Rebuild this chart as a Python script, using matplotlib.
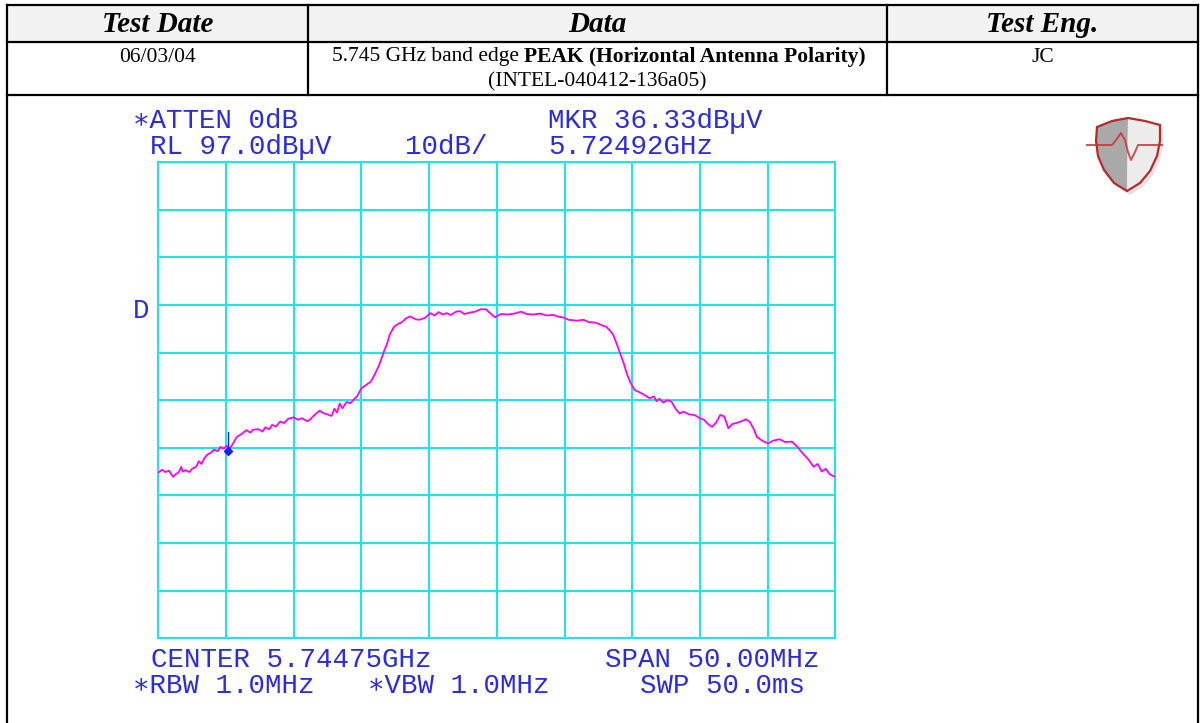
import matplotlib.pyplot as plt
from matplotlib.patches import Polygon, Rectangle

W, H = 1201, 723

# table contents
hdr_labels = ['Test Date', 'Data', 'Test Eng.']
row_date = '06/03/04'
row_data_plain = '5.745 GHz band edge'
row_data_bold = 'PEAK (Horizontal Antenna Polarity)'
row_data_line2 = '(INTEL-040412-136a05)'
row_eng = 'JC'

# analyzer settings
center_ghz = 5.74475
span_mhz = 50.0
ref_level = 97.0
db_per_div = 10
mkr_ghz = 5.72492
mkr_level = 36.33

# trace: MHz from start frequency, level in dBuV
trace_mhz = [0.0, 0.3, 0.5, 0.8, 1.0, 1.1, 1.3, 1.5, 1.7, 1.8, 2.0, 2.3, 2.5, 2.8,
             3.0, 3.2, 3.4, 3.6, 3.9, 4.1, 4.4, 4.6, 4.8, 5.05, 5.3, 5.5, 5.8, 6.1,
             6.5, 6.8, 7.0, 7.4, 7.7, 7.9, 8.2, 8.4, 8.7, 9.0, 9.3, 9.6, 10.0, 10.3,
             10.6, 11.0, 11.2, 11.5, 11.9, 12.2, 12.5, 12.8, 13.0, 13.2, 13.4, 13.6,
             13.9, 14.2, 14.4, 14.7, 15.0, 15.4, 15.7, 16.0, 16.3, 16.7, 16.9, 17.1,
             17.4, 17.7, 18.0, 18.3, 18.6, 19.0, 19.3, 19.7, 20.1, 20.4, 20.7, 21.0,
             21.3, 21.6, 22.0, 22.3, 22.6, 23.0, 23.4, 23.8, 24.2, 24.5, 24.87, 25.1,
             25.3, 25.8, 26.3, 26.8, 27.2, 27.7, 28.2, 28.7, 29.2, 29.6, 29.9, 30.3,
             30.9, 31.4, 31.8, 32.3, 32.8, 33.1, 33.4, 33.6, 33.9, 34.1, 34.4, 34.6,
             34.9, 35.2, 35.6, 36.0, 36.3, 36.6, 36.8, 37.0, 37.3, 37.6, 37.9, 38.2,
             38.5, 38.8, 39.2, 39.6, 40.0, 40.3, 40.6, 40.9, 41.2, 41.5, 41.8, 42.1,
             42.4, 42.8, 43.1, 43.4, 43.7, 44.0, 44.2, 44.6, 45.05, 45.4, 45.9, 46.3,
             46.8, 47.2, 47.6, 48.0, 48.4, 48.7, 49.0, 49.3, 49.6, 50.0]
trace_dbuv = [31.8, 32.4, 31.9, 32.2, 31.3, 30.9, 31.5, 31.8, 33.0, 32.0, 32.3, 31.9, 32.6, 33.0,
              34.2, 33.6, 34.8, 35.5, 36.0, 36.6, 36.3, 37.2, 36.8, 37.4, 36.9, 37.8, 39.3, 39.8,
              40.7, 40.2, 40.8, 40.9, 40.4, 41.3, 40.9, 41.8, 41.5, 42.5, 42.2, 43.1, 43.4, 42.9,
              43.2, 42.6, 42.9, 43.8, 44.8, 44.3, 44.0, 43.7, 45.2, 44.4, 46.3, 45.3,
              46.6, 46.4, 47.0, 47.9, 49.5, 50.3, 50.9, 52.5, 54.3, 57.5, 58.9, 60.8,
              62.4, 63.0, 63.4, 64.2, 64.6, 64.0, 63.9, 64.3, 65.3, 64.8, 65.5, 65.0,
              65.3, 64.9, 65.6, 65.7, 65.1, 65.4, 65.6, 66.1, 66.1, 65.3, 64.4, 64.8,
              65.1, 65.0, 65.2, 65.6, 65.1, 65.0, 65.2, 64.8, 64.9, 64.5, 64.4, 63.9,
              63.7, 63.9, 63.4, 63.3, 62.7, 62.4, 61.5, 60.7, 58.5, 56.9, 54.5, 52.6,
              50.5, 49.1, 48.6, 47.9, 47.4, 47.8, 46.8, 47.3, 46.5, 47.0, 46.7, 45.2,
              44.2, 44.6, 44.0, 43.9, 43.2, 42.9, 42.0, 41.4, 42.3, 43.9, 43.6, 41.1,
              42.0, 42.3, 42.6, 43.0, 42.4, 40.8, 39.3, 38.5, 37.9, 38.5, 38.8, 38.2,
              38.3, 37.2, 35.8, 34.6, 33.0, 33.6, 32.0, 32.6, 31.4, 30.9]

fig = plt.figure(figsize=(W / 100, H / 100), dpi=100)
bg = fig.add_axes([0, 0, 1, 1])
bg.set_xlim(0, W)
bg.set_ylim(H, 0)
bg.axis('off')

# --- the report table around the screenshot ---
x_cols = [7, 308, 887, 1198]
y_rows = [5, 42, 95]
bg.add_patch(Rectangle((x_cols[0], y_rows[0]), x_cols[-1] - x_cols[0], y_rows[1] - y_rows[0],
                       facecolor='#f2f2f2', edgecolor='none'))
lw = 1.6
for y in y_rows:
    bg.plot([x_cols[0], x_cols[-1]], [y, y], color='black', lw=lw, solid_capstyle='projecting')
for x in x_cols[1:-1]:
    bg.plot([x, x], [y_rows[0], y_rows[2]], color='black', lw=lw)
for x in (x_cols[0], x_cols[-1]):
    bg.plot([x, x], [y_rows[0], H + 5], color='black', lw=lw)

serif = 'Liberation Serif'
for i, lab in enumerate(hdr_labels):
    bg.text((x_cols[i] + x_cols[i + 1]) / 2, 24, lab, ha='center', va='center',
            family=serif, fontsize=21, weight='bold', style='italic')
bg.text((x_cols[0] + x_cols[1]) / 2, 57, row_date, ha='center', va='center',
        family=serif, fontsize=15.5)
bg.text((x_cols[2] + x_cols[3]) / 2, 57, row_eng, ha='center', va='center',
        family=serif, fontsize=15.5)
bg.text(519, 57, row_data_plain, ha='right', va='center', family=serif, fontsize=15.5)
bg.text(524, 57, row_data_bold, ha='left', va='center', family=serif, fontsize=15.5,
        weight='bold')
bg.text((x_cols[1] + x_cols[2]) / 2, 82, row_data_line2, ha='center', va='center',
        family=serif, fontsize=15.5)

# --- analyzer annotations ---
mono = ['Liberation Mono', 'DejaVu Sans Mono', 'DejaVu Sans']
blue = '#2b2be0'
notes = [
    (133, 121, '\u2217ATTEN 0dB'),
    (150, 147, 'RL 97.0dB\u00b5V'),
    (405, 147, '10dB/'),
    (548, 121, 'MKR %.2fdB\u00b5V' % mkr_level),
    (548, 147, '%.5fGHz' % mkr_ghz),
    (133, 311, 'D'),
    (151, 660, 'CENTER %.5fGHz' % center_ghz),
    (605, 660, 'SPAN %.2fMHz' % span_mhz),
    (133, 686, '\u2217RBW 1.0MHz'),
    (368, 686, '\u2217VBW 1.0MHz'),
    (640, 686, 'SWP 50.0ms'),
]
for x, y, s in notes:
    bg.text(x, y, s, ha='left', va='center', family=mono, fontsize=19.8, color=blue)

# --- logo (shield with pulse) ---
left_half = [(1128, 118), (1112, 121), (1097, 127), (1096, 141), (1098, 156), (1104, 170),
             (1114, 183), (1127, 191)]
right_half = [(1128, 118), (1145, 121), (1160, 125), (1160, 141), (1157, 156), (1150, 171),
              (1140, 183), (1127, 191)]
bg.add_patch(Polygon([(x + 3, y + 4) for x, y in left_half + right_half[::-1]],
                     closed=True, facecolor='#d0d0d0', edgecolor='none', alpha=0.6))
bg.add_patch(Polygon(left_half, closed=True, facecolor='#a9a9a9', edgecolor='none'))
bg.add_patch(Polygon(right_half, closed=True, facecolor='#ececec', edgecolor='none'))
bg.add_patch(Polygon(left_half + right_half[::-1], closed=True, facecolor='none',
                     edgecolor='#b52a2a', lw=1.6))
pulse = [(1087, 145), (1112, 145), (1116, 140), (1121, 133), (1125, 140), (1128, 152),
         (1131, 160), (1135, 152), (1138, 145), (1162, 145)]
bg.plot([p[0] for p in pulse], [p[1] for p in pulse], color='#c33', lw=1.4, alpha=0.85)

# --- the spectrum screen ---
gx0, gx1, gy0, gy1 = 158.3, 835.3, 162.2, 638.2
ax = fig.add_axes([gx0 / W, 1 - gy1 / H, (gx1 - gx0) / W, (gy1 - gy0) / H])
ax.set_xlim(0, span_mhz)
ax.set_ylim(ref_level - 10 * db_per_div, ref_level)
ax.set_xticks([i * span_mhz / 10 for i in range(11)])
ax.set_yticks([ref_level - i * db_per_div for i in range(11)])
ax.grid(True, color='#1fe6e6', lw=1.5)
ax.tick_params(length=0, labelbottom=False, labelleft=False)
for sp in ax.spines.values():
    sp.set_color('#1fe6e6')
    sp.set_linewidth(1.5)
ax.set_facecolor('none')

ax.plot(trace_mhz, trace_dbuv, color='#ff00ff', lw=1.3, zorder=3)
start_ghz = center_ghz - span_mhz / 2000
mkr_x = (mkr_ghz - start_ghz) * 1000
ax.plot([mkr_x], [mkr_level], marker='D', ms=4, color='#1a1aff', zorder=4)
ax.plot([mkr_x, mkr_x], [mkr_level, mkr_level + 4], color='#1a1aff', lw=1, zorder=4)

fig.savefig('out.png', dpi=100)
